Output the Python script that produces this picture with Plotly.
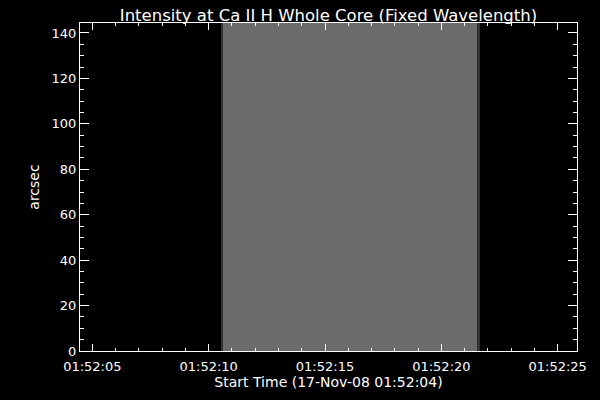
import plotly.graph_objects as go

# Data
day = "2008-11-17"
col_edges_sec = [10.55, 10.60, 21.55, 21.64]   # seconds after 01:52:00
col_values = [50, 107, 50]                       # grayscale intensity (0-255)
y_top = 144.4
x_range_sec = [4.47, 25.83]
title = "Intensity at Ca II H Whole Core (Fixed Wavelength)"
xlabel = "Start Time (17-Nov-08 01:52:04)"
ylabel = "arcsec"


def ts(s):
    whole = int(s)
    frac = s - whole
    return f"{day} 01:52:{whole:02d}.{int(round(frac * 1000)):03d}"


centers = [ts((a + b) / 2) for a, b in zip(col_edges_sec[:-1], col_edges_sec[1:])]
widths = [(b - a) * 1000 for a, b in zip(col_edges_sec[:-1], col_edges_sec[1:])]
colors = [f"rgb({v},{v},{v})" for v in col_values]

fig = go.Figure(go.Bar(
    x=centers, y=[y_top] * len(centers), width=widths,
    marker=dict(color=colors, line=dict(width=0)),
    hoverinfo="skip",
))

font = dict(family="DejaVu Sans", size=13, color="white")
label_font = dict(family="DejaVu Sans", size=14, color="white")

fig.update_layout(
    width=600, height=400,
    paper_bgcolor="black", plot_bgcolor="black",
    margin=dict(l=80, r=23, t=23, b=49, autoexpand=False),
    font=font,
    title=dict(text=title, x=0.5, xanchor="center", y=0.963, yanchor="middle",
               xref="paper", yref="container",
               font=dict(family="DejaVu Sans", size=16.5, color="white")),
    showlegend=False,
    bargap=0,
)

fig.update_xaxes(
    type="date", automargin=False,
    range=[ts(x_range_sec[0]), ts(x_range_sec[1])],
    tick0=f"{day} 01:52:00", dtick=5000, tickformat="%H:%M:%S",
    ticks="inside", ticklen=7, tickwidth=1, tickcolor="white",
    ticklabelstandoff=3,
    minor=dict(dtick=1000, tick0=f"{day} 01:52:00", ticks="inside", ticklen=3,
               tickwidth=1, tickcolor="white", showgrid=False),
    showline=True, linecolor="white", linewidth=1, mirror="ticks",
    showgrid=False, zeroline=False,
    title=dict(text=xlabel, standoff=1, font=label_font),
    tickfont=font,
)

fig.update_yaxes(
    automargin=False,
    range=[0, y_top],
    tick0=0, dtick=20,
    ticks="inside", ticklen=9, tickwidth=1, tickcolor="white",
    minor=dict(dtick=5, ticks="inside", ticklen=4, tickwidth=1,
               tickcolor="white", showgrid=False),
    showline=True, linecolor="white", linewidth=1, mirror="ticks",
    showgrid=False, zeroline=False,
    title=dict(text=ylabel, standoff=8, font=label_font),
    tickfont=font,
)

fig.write_html(
    "out.html",
    config={"displayModeBar": False},
    post_script="document.body.style.margin='0';document.body.style.background='black';",
)
